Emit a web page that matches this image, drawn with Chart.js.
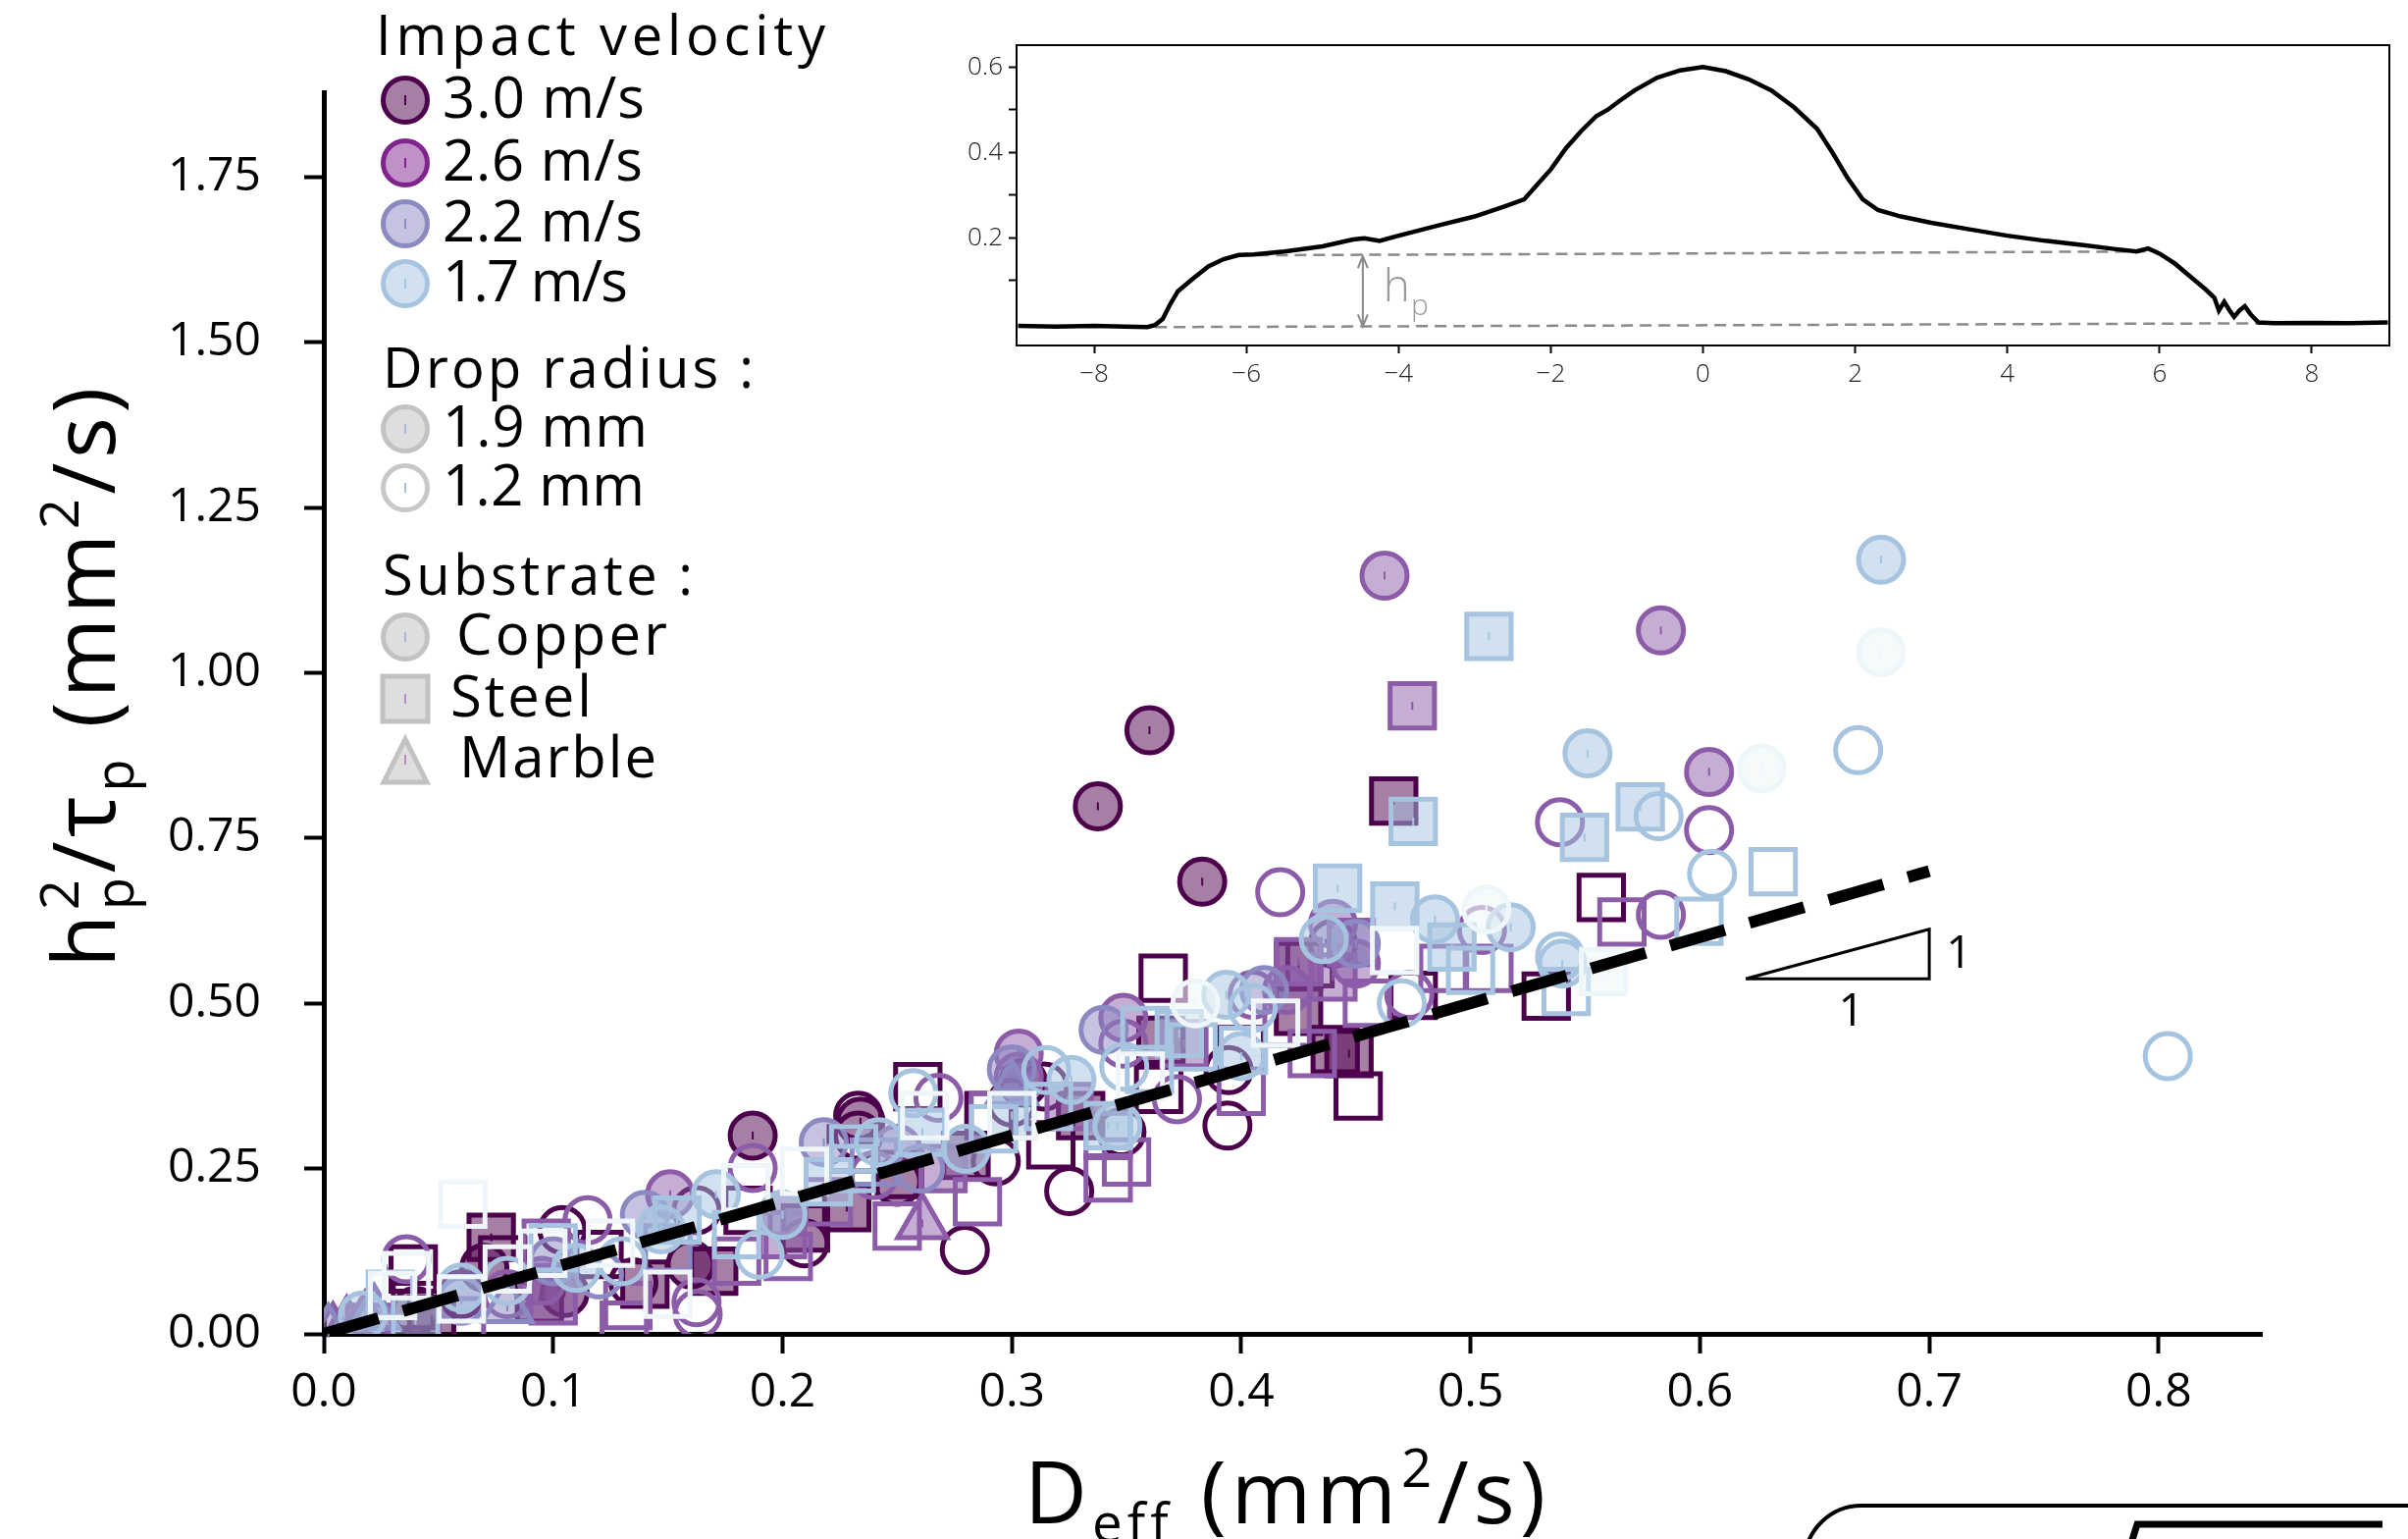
<!DOCTYPE html>
<html>
<head>
<meta charset="utf-8">
<script src="https://cdn.jsdelivr.net/npm/chart.js@4.4.1/dist/chart.umd.min.js"></script>
<style>
  html, body { margin: 0; padding: 0; background: #fff; }
  #wrap { position: relative; width: 2454px; height: 1568px; overflow: hidden; }
  #main { position: absolute; left: 0; top: 0; width: 2454px; height: 1568px; }
  #inset { position: absolute; left: 940px; top: 20px; width: 1514px; height: 400px; }
</style>
</head>
<body>
<div id="wrap">
  <canvas id="main" width="2454" height="1568"></canvas>
  <canvas id="inset" width="1514" height="400"></canvas>
</div>
<script>
// --- data ---
// [Deff, hp^2/tau_p, kind]  kind: C/S/T = copper/steel/marble, upper case = 1.9 mm (filled), lower case = 1.2 mm (hollow)
const v30 = [
  [0.360,0.913,'C'],[0.3375,0.798,'C'],[0.383,0.684,'C'],[0.187,0.300,'C'],[0.234,0.321,'C'],[0.070,0.100,'C'],
  [0.105,0.062,'C'],[0.160,0.105,'C'],[0.305,0.380,'C'],[0.250,0.230,'C'],[0.040,0.035,'C'],
  [0.4665,0.806,'S'],[0.073,0.146,'S'],[0.425,0.557,'S'],[0.425,0.488,'S'],[0.441,0.430,'S'],[0.365,0.444,'S'],
  [0.228,0.191,'S'],[0.170,0.095,'S'],[0.094,0.053,'S'],[0.047,0.022,'S'],[0.447,0.424,'S'],[0.330,0.330,'S'],
  [0.140,0.075,'S'],[0.210,0.160,'S'],[0.280,0.270,'S'],
  [0.366,0.538,'s'],[0.557,0.660,'s'],[0.533,0.511,'s'],[0.451,0.360,'s'],[0.259,0.374,'s'],[0.251,0.241,'s'],
  [0.317,0.286,'s'],[0.364,0.370,'s'],[0.039,0.098,'s'],[0.040,0.043,'s'],[0.078,0.112,'s'],[0.185,0.187,'s'],
  [0.430,0.560,'s'],[0.290,0.330,'s'],[0.120,0.120,'s'],[0.475,0.512,'s'],[0.400,0.430,'s'],[0.230,0.280,'s'],
  [0.394,0.315,'c'],[0.325,0.216,'c'],[0.2795,0.127,'c'],[0.3945,0.399,'c'],[0.3478,0.305,'c'],[0.314,0.374,'c'],
  [0.233,0.330,'c'],[0.233,0.300,'c'],[0.1625,0.187,'c'],[0.104,0.157,'c'],[0.2096,0.137,'c'],[0.135,0.078,'c'],
  [0.293,0.261,'c'],[0.440,0.590,'c'],[0.060,0.060,'c'],[0.300,0.350,'c']
];
const v26 = [
  [0.4625,1.147,'C'],[0.583,1.064,'C'],[0.604,0.850,'C'],[0.440,0.620,'C'],[0.3486,0.478,'C'],[0.303,0.424,'C'],
  [0.303,0.389,'C'],[0.151,0.211,'C'],[0.250,0.280,'C'],[0.095,0.080,'C'],[0.420,0.520,'C'],[0.200,0.180,'C'],[0.450,0.560,'C'],
  [0.4746,0.950,'S'],[0.448,0.592,'S'],[0.425,0.563,'S'],[0.375,0.439,'S'],[0.325,0.344,'S'],[0.020,0.010,'S'],
  [0.200,0.150,'S'],[0.440,0.540,'S'],[0.100,0.050,'S'],[0.270,0.250,'S'],
  [0.566,0.623,'s'],[0.488,0.553,'s'],[0.508,0.553,'s'],[0.400,0.367,'s'],[0.342,0.236,'s'],[0.342,0.300,'s'],
  [0.285,0.200,'s'],[0.250,0.163,'s'],[0.431,0.424,'s'],[0.292,0.330,'s'],[0.2025,0.117,'s'],[0.097,0.137,'s'],
  [0.1326,0.043,'s'],[0.131,0.013,'s'],[0.455,0.500,'s'],[0.060,0.020,'s'],[0.180,0.110,'s'],[0.350,0.260,'s'],
  [0.420,0.470,'s'],[0.220,0.200,'s'],
  [0.539,0.774,'c'],[0.604,0.762,'c'],[0.417,0.668,'c'],[0.583,0.634,'c'],[0.505,0.611,'c'],[0.4733,0.513,'c'],
  [0.405,0.513,'c'],[0.3486,0.439,'c'],[0.372,0.355,'c'],[0.268,0.357,'c'],[0.187,0.251,'c'],[0.115,0.172,'c'],
  [0.036,0.113,'c'],[0.1625,0.048,'c'],[0.163,0.030,'c'],[0.080,0.060,'c'],[0.240,0.240,'c'],
  [0.261,0.167,'T'],[0.010,0.012,'T'],
  [0.004,0.002,'t'],[0.018,0.020,'t']
];
const v22 = [
  [0.218,0.290,'C'],[0.140,0.180,'C'],[0.300,0.400,'C'],[0.340,0.460,'C'],[0.100,0.110,'C'],[0.060,0.050,'C'],
  [0.450,0.590,'C'],[0.410,0.520,'C'],
  [0.002,0.000,'T'],[0.022,0.030,'T'],[0.300,0.370,'T'],[0.080,0.040,'T'],
  [0.120,0.090,'c'],[0.260,0.250,'c'],
  [0.240,0.260,'s'],[0.150,0.130,'s']
];
const v17 = [
  [0.679,1.171,'C'],[0.551,0.878,'C'],[0.4845,0.627,'C'],[0.5175,0.615,'C'],[0.3935,0.513,'C'],[0.436,0.597,'C'],
  [0.346,0.315,'C'],[0.326,0.384,'C'],[0.242,0.290,'C'],[0.171,0.211,'C'],[0.017,0.028,'C'],[0.147,0.158,'C'],
  [0.400,0.420,'C'],[0.280,0.280,'C'],[0.060,0.070,'C'],[0.110,0.100,'C'],[0.200,0.180,'C'],[0.540,0.560,'C'],
  [0.508,1.055,'S'],[0.475,0.775,'S'],[0.574,0.797,'S'],[0.5497,0.751,'S'],[0.442,0.674,'S'],[0.467,0.647,'S'],
  [0.4919,0.585,'S'],[0.373,0.454,'S'],[0.342,0.315,'S'],[0.154,0.172,'S'],[0.261,0.305,'S'],[0.300,0.330,'S'],
  [0.040,0.020,'S'],[0.220,0.230,'S'],
  [0.632,0.699,'s'],[0.5996,0.624,'s'],[0.5417,0.518,'s'],[0.358,0.459,'s'],[0.379,0.434,'s'],[0.401,0.429,'s'],
  [0.316,0.344,'s'],[0.292,0.310,'s'],[0.231,0.280,'s'],[0.029,0.060,'s'],[0.230,0.250,'s'],[0.180,0.150,'s'],
  [0.100,0.130,'s'],[0.500,0.550,'s'],[0.360,0.400,'s'],
  [0.669,0.883,'c'],[0.582,0.783,'c'],[0.6053,0.696,'c'],[0.539,0.571,'c'],[0.405,0.493,'c'],[0.349,0.404,'c'],
  [0.315,0.399,'c'],[0.257,0.364,'c'],[0.804,0.420,'c'],[0.190,0.120,'c'],[0.080,0.080,'c'],[0.470,0.500,'c'],[0.130,0.110,'c']
];
// palest series (not listed in the legend)
const vLow = [
  [0.679,1.031,'C'],[0.627,0.855,'C'],[0.5069,0.642,'C'],[0.380,0.500,'C'],
  [0.558,0.548,'S'],
  [0.0606,0.196,'s'],[0.036,0.088,'s'],[0.030,0.058,'s'],[0.060,0.053,'s'],[0.080,0.098,'s'],[0.0955,0.122,'s'],
  [0.125,0.137,'s'],[0.184,0.221,'s'],[0.2096,0.246,'s'],[0.4669,0.580,'s'],[0.262,0.330,'s'],[0.300,0.330,'s'],
  [0.356,0.390,'s'],[0.415,0.470,'s'],[0.150,0.060,'s']
];

// slope-1 guide and its triangle
const fitX = [0, 0.70];
const fitY = [0, 0.70];
const triX = [0.62, 0.70, 0.70, 0.62];
const triY = [0.537, 0.537, 0.612, 0.537];

const xTickStep = 0.1;
const yTickStep = 0.25;

// inset: height profile (mm) vs position (mm)
const profX = [-9.0,-8.5,-8.0,-7.6,-7.3,-7.2,-7.1,-7.0,-6.9,-6.7,-6.5,-6.3,-6.1,-5.9,-5.5,-5.0,-4.6,-4.45,-4.25,-4.0,
  -3.5,-3.0,-2.6,-2.35,-2.2,-2.0,-1.8,-1.6,-1.4,-1.25,-1.1,-0.9,-0.6,-0.3,0.0,0.3,0.6,0.9,1.2,1.5,1.7,1.9,2.1,2.3,
  2.6,3.0,3.5,4.0,4.5,5.0,5.4,5.7,5.85,6.0,6.2,6.4,6.6,6.72,6.78,6.85,6.92,6.98,7.05,7.12,7.2,7.3,7.5,8.0,8.5,9.0];
const profY = [-0.006,-0.008,-0.006,-0.008,-0.009,-0.004,0.010,0.045,0.075,0.105,0.133,0.150,0.160,0.161,0.168,0.180,0.196,0.199,0.193,0.205,
  0.228,0.250,0.274,0.290,0.320,0.360,0.410,0.450,0.485,0.500,0.520,0.545,0.575,0.592,0.600,0.590,0.571,0.545,0.505,0.455,0.400,0.340,0.290,0.265,
  0.250,0.235,0.220,0.205,0.193,0.183,0.174,0.168,0.175,0.163,0.140,0.110,0.080,0.060,0.030,0.050,0.030,0.015,0.030,0.040,0.020,0.002,0.000,0.001,0.000,0.002];
const plateauX = [-6.1, 5.85];
const plateauY = [0.159, 0.168];
const baseX = [-7.2, 7.4];
const baseY = [-0.009, 0.0];
const arrowX = [-4.47, -4.47];
const arrowY = [0.157, -0.007];

const FONT = "'Open Sans', sans-serif";

// --- main scatter ---
const series = [
  { pts: v30,  edge: '#4d004b', fill: 'rgba(77,0,75,0.5)',     order: 5 },
  { pts: v26,  edge: '#8c5ca8', fill: 'rgba(140,92,168,0.5)',  order: 4 },
  { pts: v22,  edge: '#8c88c2', fill: 'rgba(140,136,194,0.5)', order: 3 },
  { pts: v17,  edge: '#a6c4e0', fill: 'rgba(166,196,224,0.5)', order: 2 },
  { pts: vLow, edge: '#eef6f9', fill: 'rgba(238,246,249,0.6)', order: 1 }
];
const kinds = {
  s: ['rect', 32, false], S: ['rect', 32, true],
  c: ['circle', 23, false], C: ['circle', 23, true],
  t: ['triangle', 29, false], T: ['triangle', 29, true]
};

const datasets = [];
series.forEach(sr => {
  Object.keys(kinds).forEach(k => {
    const pts = sr.pts.filter(p => p[2] === k).map(p => ({ x: p[0], y: p[1] }));
    if (!pts.length) return;
    const [style, r, filled] = kinds[k];
    datasets.push({
      type: 'scatter',
      data: pts,
      pointStyle: style,
      pointRadius: r,
      pointHoverRadius: r,
      pointBorderWidth: 5,
      pointHoverBorderWidth: 5,
      pointBorderColor: sr.edge,
      pointBackgroundColor: filled ? sr.fill : 'rgba(0,0,0,0)',
      order: sr.order,
      errTick: filled
    });
  });
});

datasets.push({
  type: 'line',
  data: fitX.map((x, i) => ({ x: x, y: fitY[i] })),
  borderColor: '#000',
  borderWidth: 12,
  borderDash: [58, 26],
  borderCapStyle: 'butt',
  pointRadius: 0,
  fill: false,
  order: 0
});
datasets.push({
  type: 'line',
  data: triX.map((x, i) => ({ x: x, y: triY[i] })),
  borderColor: '#000',
  borderWidth: 3,
  pointRadius: 0,
  fill: false,
  order: 0
});

// text with letter spacing stretched to a target width
function fitText(ctx, text, x, y, target) {
  ctx.letterSpacing = '0px';
  const w = ctx.measureText(text).width;
  const ls = target && text.length > 1 ? (target - w) / (text.length - 1) : 0;
  ctx.letterSpacing = ls + 'px';
  ctx.fillText(text, x, y);
  ctx.letterSpacing = '0px';
}

// text with super/subscripts, returns width
function richText(ctx, parts, F, ls, draw, x0, y0) {
  let x = x0, stackX = x0, stackW = 0;
  parts.forEach(p => {
    const small = p.s === 'sup' || p.s === 'sub';
    ctx.font = (small ? F * 0.62 : F) + 'px ' + FONT;
    ctx.letterSpacing = ls + 'px';
    const w = ctx.measureText(p.t).width;
    const dy = p.s === 'sup' ? -0.42 * F : (p.s === 'sub' ? 0.22 * F : 0);
    const px = p.stack ? stackX : x;
    if (draw) ctx.fillText(p.t, px, y0 + dy);
    if (p.stack) x = stackX + Math.max(stackW, w);
    else { stackX = x; stackW = w; x += w; }
  });
  ctx.letterSpacing = '0px';
  return x - x0;
}
function drawRich(ctx, parts, F, target, cx, y) {
  const w0 = richText(ctx, parts, F, 0, false, 0, 0);
  const n = parts.reduce((a, p) => a + p.t.length, 0);
  const ls = (target - w0) / n;
  const w = richText(ctx, parts, F, ls, false, 0, 0);
  richText(ctx, parts, F, ls, true, cx - w / 2, y);
}

function legendMarker(ctx, shape, x, y, edge, fill, tick) {
  ctx.save();
  ctx.lineWidth = 5;
  ctx.strokeStyle = edge;
  ctx.fillStyle = fill;
  ctx.beginPath();
  if (shape === 'circle') ctx.arc(x, y, 22.5, 0, Math.PI * 2);
  else if (shape === 'rect') ctx.rect(x - 23, y - 23, 46, 46);
  else { ctx.moveTo(x, y - 21); ctx.lineTo(x + 22, y + 23); ctx.lineTo(x - 22, y + 23); ctx.closePath(); }
  if (fill) ctx.fill();
  ctx.stroke();
  ctx.beginPath();
  ctx.lineWidth = 2;
  ctx.strokeStyle = tick;
  ctx.moveTo(x, y - 5);
  ctx.lineTo(x, y + 5);
  ctx.stroke();
  ctx.restore();
}

const mainDecor = {
  id: 'mainDecor',
  beforeDraw(chart) {
    const ctx = chart.ctx;
    ctx.save();
    ctx.fillStyle = '#fff';
    ctx.fillRect(0, 0, chart.width, chart.height);
    ctx.restore();
  },
  afterDatasetDraw(chart, args) {
    const ds = chart.data.datasets[args.index];
    if (!ds.errTick) return;
    const ctx = chart.ctx;
    ctx.save();
    ctx.strokeStyle = ds.pointBorderColor;
    ctx.lineWidth = 2;
    args.meta.data.forEach(el => {
      ctx.beginPath();
      ctx.moveTo(el.x, el.y - 4);
      ctx.lineTo(el.x, el.y + 4);
      ctx.stroke();
    });
    ctx.restore();
  },
  afterDraw(chart) {
    const ctx = chart.ctx;
    const xs = chart.scales.x, ys = chart.scales.y;
    ctx.save();
    ctx.fillStyle = '#000';
    ctx.textAlign = 'left';
    ctx.textBaseline = 'alphabetic';

    // legend
    ctx.font = '500 56px ' + FONT;
    fitText(ctx, 'Impact velocity', 383, 56, 458);
    const velItems = [
      ['3.0 m/s', '#4d004b', 'rgba(77,0,75,0.5)', 102, 206],
      ['2.6 m/s', '#81238d', 'rgba(129,35,141,0.5)', 166, 204],
      ['2.2 m/s', '#8c88c2', 'rgba(140,136,194,0.5)', 228, 204],
      ['1.7 m/s', '#a6c4e0', 'rgba(166,196,224,0.5)', 289, 189]
    ];
    velItems.forEach(it => {
      legendMarker(ctx, 'circle', 413, it[3], it[1], it[2], it[1]);
      ctx.fillStyle = '#000';
      ctx.font = '58px ' + FONT;
      fitText(ctx, it[0], 451, it[3] + 18, it[4]);
    });
    ctx.font = '500 56px ' + FONT;
    fitText(ctx, 'Drop radius :', 390, 395, 378);
    legendMarker(ctx, 'circle', 413, 437, '#c2c2c2', '#dedede', '#a9b6d6');
    legendMarker(ctx, 'circle', 413, 497, '#c8c8c8', null, '#a9c1e0');
    ctx.fillStyle = '#000';
    ctx.font = '58px ' + FONT;
    fitText(ctx, '1.9 mm', 451, 455, 209);
    fitText(ctx, '1.2 mm', 451, 515, 206);
    ctx.font = '500 56px ' + FONT;
    fitText(ctx, 'Substrate :', 390, 606, 316);
    legendMarker(ctx, 'circle', 413, 649, '#c2c2c2', '#dedede', '#a9b6d6');
    legendMarker(ctx, 'rect', 413, 712, '#c2c2c2', '#dedede', '#b58ac9');
    legendMarker(ctx, 'triangle', 413, 774, '#c2c2c2', '#dedede', '#b58ac9');
    ctx.fillStyle = '#000';
    ctx.font = '58px ' + FONT;
    fitText(ctx, 'Copper', 465, 667, 215);
    fitText(ctx, 'Steel', 459, 730, 144);
    fitText(ctx, 'Marble', 468, 792, 201);

    // slope labels
    ctx.font = '46px ' + FONT;
    ctx.textAlign = 'center';
    ctx.textBaseline = 'middle';
    ctx.fillText('1', xs.getPixelForValue(0.713), ys.getPixelForValue(0.573));
    ctx.fillText('1', xs.getPixelForValue(0.666), ys.getPixelForValue(0.485));

    // axis titles
    ctx.textAlign = 'left';
    ctx.textBaseline = 'alphabetic';
    drawRich(ctx, [
      { t: 'D' }, { t: 'eff', s: 'sub' }, { t: ' (mm' }, { t: '2', s: 'sup' }, { t: '/s)' }
    ], 88, 536, 1312, 1552);
    ctx.save();
    ctx.translate(117, 688);
    ctx.rotate(-Math.PI / 2);
    drawRich(ctx, [
      { t: 'h' }, { t: '2', s: 'sup' }, { t: 'p', s: 'sub', stack: true }, { t: '/τ' }, { t: 'p', s: 'sub' },
      { t: ' (mm' }, { t: '2', s: 'sup' }, { t: '/s)' }
    ], 88, 600, 0, 0);
    ctx.restore();

    // clipped box at the lower right edge
    ctx.strokeStyle = '#000';
    ctx.lineWidth = 4;
    ctx.beginPath();
    ctx.roundRect(1839, 1534, 700, 200, 58);
    ctx.stroke();
    ctx.lineWidth = 7;
    ctx.beginPath();
    ctx.moveTo(2172, 1572);
    ctx.lineTo(2178, 1553);
    ctx.lineTo(2428, 1553);
    ctx.stroke();
    ctx.restore();
  }
};

new Chart(document.getElementById('main'), {
  type: 'scatter',
  data: { datasets: datasets },
  options: {
    responsive: false,
    animation: false,
    devicePixelRatio: 1,
    events: [],
    layout: { padding: { left: 0, top: 94, right: 149, bottom: 0 } },
    plugins: { legend: { display: false }, tooltip: { enabled: false } },
    scales: {
      x: {
        type: 'linear', min: 0, max: 0.845,
        ticks: {
          stepSize: xTickStep, includeBounds: false, color: '#000', padding: 12, maxRotation: 0,
          font: { family: FONT, size: 48 },
          callback: v => v.toFixed(1)
        },
        grid: { display: true, drawOnChartArea: false, drawTicks: true, tickLength: 20, tickWidth: 4, tickColor: '#000' },
        border: { display: true, color: '#000', width: 5 },
        afterFit: s => { s.height = 209; }
      },
      y: {
        type: 'linear', min: 0, max: 1.878,
        ticks: {
          stepSize: yTickStep, includeBounds: false, color: '#000', padding: 44,
          font: { family: FONT, size: 48 },
          callback: v => v.toFixed(2)
        },
        grid: { display: true, drawOnChartArea: false, drawTicks: true, tickLength: 20, tickWidth: 4, tickColor: '#000' },
        border: { display: true, color: '#000', width: 5 },
        afterFit: s => { s.width = 330; }
      }
    }
  },
  plugins: [mainDecor]
});

// --- inset profile ---
const insetDecor = {
  id: 'insetDecor',
  afterDraw(chart) {
    const ctx = chart.ctx;
    const a = chart.chartArea;
    const xs = chart.scales.x, ys = chart.scales.y;
    ctx.save();
    ctx.strokeStyle = '#000';
    ctx.lineWidth = 2;
    ctx.strokeRect(a.left, a.top, a.right - a.left, a.bottom - a.top);
    // arrow heads
    const ax = xs.getPixelForValue(arrowX[0]);
    const top = ys.getPixelForValue(arrowY[0]), bot = ys.getPixelForValue(arrowY[1]);
    ctx.strokeStyle = '#888';
    ctx.lineWidth = 2;
    ctx.beginPath();
    ctx.moveTo(ax - 5, top + 12); ctx.lineTo(ax, top); ctx.lineTo(ax + 5, top + 12);
    ctx.moveTo(ax - 5, bot - 12); ctx.lineTo(ax, bot); ctx.lineTo(ax + 5, bot - 12);
    ctx.stroke();
    // h_p label
    ctx.fillStyle = '#999';
    ctx.textAlign = 'left';
    ctx.textBaseline = 'alphabetic';
    ctx.font = '300 46px ' + FONT;
    const hx = xs.getPixelForValue(-4.2), hy = ys.getPixelForValue(0.051);
    ctx.fillText('h', hx, hy);
    const hw = ctx.measureText('h').width;
    ctx.font = '300 30px ' + FONT;
    ctx.fillText('p', hx + hw + 1, hy + 14);
    ctx.restore();
  }
};

new Chart(document.getElementById('inset'), {
  type: 'line',
  data: {
    datasets: [
      { data: profX.map((x, i) => ({ x: x, y: profY[i] })), borderColor: '#000', borderWidth: 4.5, pointRadius: 0, tension: 0, fill: false, order: 0 },
      { data: plateauX.map((x, i) => ({ x: x, y: plateauY[i] })), borderColor: '#8a8a8a', borderWidth: 2.5, borderDash: [12, 7], pointRadius: 0, fill: false, order: 1 },
      { data: baseX.map((x, i) => ({ x: x, y: baseY[i] })), borderColor: '#8a8a8a', borderWidth: 2.5, borderDash: [12, 7], pointRadius: 0, fill: false, order: 1 },
      { data: arrowX.map((x, i) => ({ x: x, y: arrowY[i] })), borderColor: '#888', borderWidth: 2, pointRadius: 0, fill: false, order: 1 }
    ]
  },
  options: {
    responsive: false,
    animation: false,
    devicePixelRatio: 1,
    events: [],
    layout: { padding: { left: 0, top: 26, right: 19, bottom: 0 } },
    plugins: { legend: { display: false }, tooltip: { enabled: false } },
    scales: {
      x: {
        type: 'linear', min: -9.02, max: 9.02,
        ticks: {
          stepSize: 2, includeBounds: false, color: '#222', padding: 6, maxRotation: 0,
          font: { family: FONT, size: 26, weight: '300' },
          callback: v => (v < 0 ? '\u2212' + Math.abs(v) : String(v))
        },
        grid: { display: true, drawOnChartArea: false, drawTicks: true, tickLength: 8, tickWidth: 2, tickColor: '#000' },
        border: { display: false },
        afterFit: s => { s.height = 68; }
      },
      y: {
        type: 'linear', min: -0.052, max: 0.651,
        afterBuildTicks: s => { s.ticks = s.ticks.filter(t => t.value > 0.05); },
        ticks: {
          stepSize: 0.1, includeBounds: false, color: '#222', padding: 6,
          font: { family: FONT, size: 26, weight: '300' },
          callback: v => ([0.2, 0.4, 0.6].some(t => Math.abs(t - v) < 1e-6) ? v.toFixed(1) : '')
        },
        grid: { display: true, drawOnChartArea: false, drawTicks: true, tickLength: 8, tickWidth: 2, tickColor: '#000' },
        border: { display: false },
        afterFit: s => { s.width = 96; }
      }
    }
  },
  plugins: [insetDecor]
});
</script>
</body>
</html>
